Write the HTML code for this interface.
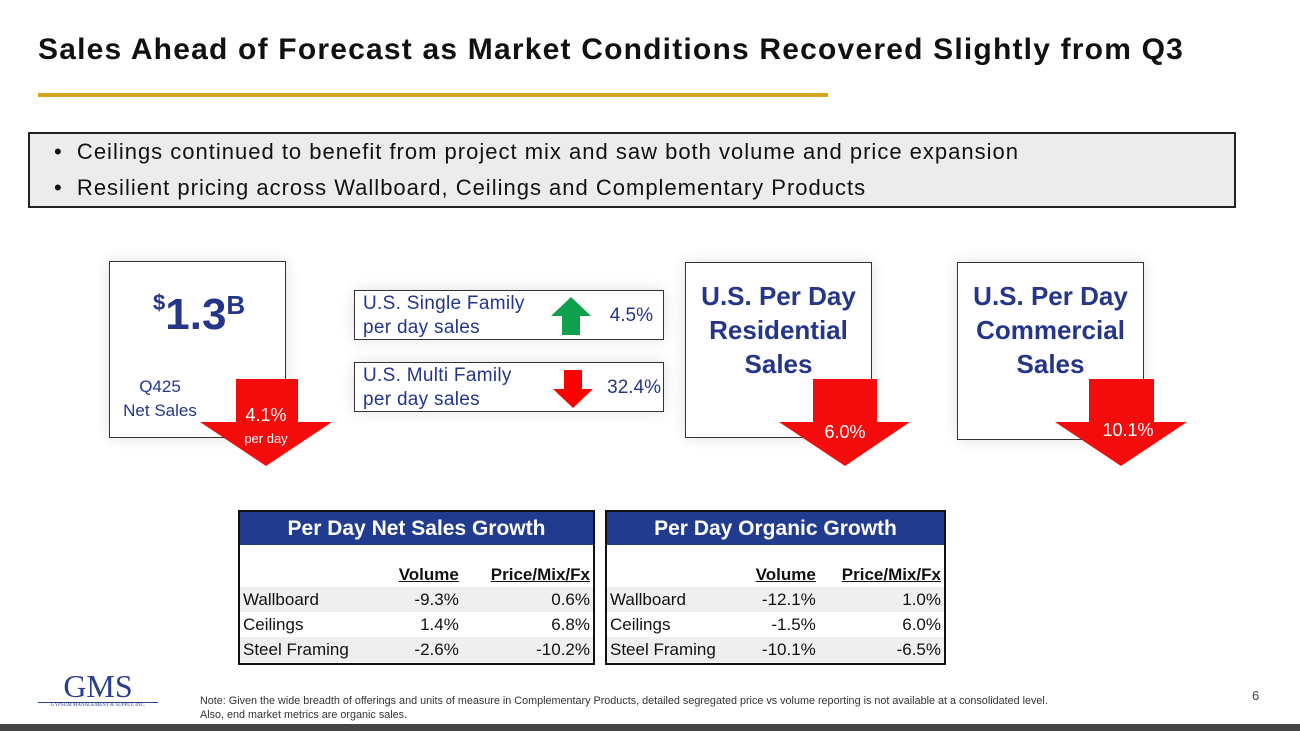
<!DOCTYPE html>
<html><head><meta charset="utf-8"><style>
*{margin:0;padding:0;box-sizing:border-box}
body{width:1300px;height:731px;background:#fff;position:relative;overflow:hidden;font-family:"Liberation Sans",sans-serif}
.a{position:absolute}
.box{position:absolute;background:#fff;border:1px solid #333;box-shadow:0 0 14px rgba(0,0,0,.12)}
.navy{color:#24358a}
table{border-collapse:collapse;font-family:"Liberation Sans",sans-serif;font-size:17px;width:100%}
.tbl{position:absolute;border:2px solid #111;background:#fff;overflow:hidden}
.th{background:#213c8e;color:#fff;font-weight:bold;font-size:21px;text-align:center;height:33px;line-height:33px}
td{height:25px;line-height:20px;padding:0 3px;color:#111;white-space:nowrap}
td.n{text-align:right}
tr.g td{background:#efefef}
.ch td{font-weight:bold;text-decoration:underline;text-align:right}
tr.sp td{height:17px;line-height:0;font-size:0}
</style></head><body>
<div class="a" style="left:38px;top:33px;font-size:30px;letter-spacing:1.2px;font-weight:bold;color:#111;white-space:nowrap">Sales Ahead of Forecast as Market Conditions Recovered Slightly from Q3</div>
<div class="a" style="left:38px;top:93px;width:790px;height:4px;background:#d6a520"></div>
<div class="a" style="left:28px;top:132px;width:1208px;height:76px;background:#ececec;border:2px solid #222;font-size:22px;letter-spacing:1px;color:#111;padding:0 0 0 24px;line-height:36px;white-space:nowrap">
<div>•&nbsp;&nbsp;Ceilings continued to benefit from project mix and saw both volume and price expansion</div>
<div>•&nbsp;&nbsp;Resilient pricing across Wallboard, Ceilings and Complementary Products</div>
</div>

<div class="box" style="left:109px;top:261px;width:177px;height:177px">
<div class="a navy" style="left:43px;top:28px;font-weight:bold"><span style="font-size:22px;vertical-align:top">$</span><span style="font-size:44px">1.3</span><span style="font-size:26px;vertical-align:top">B</span></div>
<div class="a navy" style="left:6px;top:113px;font-size:17px;line-height:24px;text-align:center;width:88px">Q425<br>Net Sales</div>
</div>
<div class="box" style="left:685px;top:262px;width:187px;height:176px"><div class="a navy" style="left:0;top:16px;width:100%;text-align:center;font-weight:bold;font-size:26px;line-height:34px">U.S. Per Day<br>Residential<br>Sales</div></div>
<div class="box" style="left:957px;top:262px;width:187px;height:178px"><div class="a navy" style="left:0;top:16px;width:100%;text-align:center;font-weight:bold;font-size:26px;line-height:34px">U.S. Per Day<br>Commercial<br>Sales</div></div>

<div class="box" style="left:354px;top:290px;width:310px;height:50px">
<div class="a navy" style="left:8px;top:1px;font-size:19px;line-height:24px;letter-spacing:.3px">U.S. Single Family<br>per day sales</div>
<svg class="a" style="left:196px;top:6px" width="40" height="38"><polygon points="20,0 40,19 29,19 29,38 11,38 11,19 0,19" fill="#0ea04a"/></svg>
<div class="a navy" style="right:10px;top:14px;font-size:19px">4.5%</div></div>
<div class="box" style="left:354px;top:362px;width:310px;height:50px">
<div class="a navy" style="left:8px;top:1px;font-size:19px;line-height:24px;letter-spacing:.3px">U.S. Multi Family<br>per day sales</div>
<svg class="a" style="left:198px;top:7px" width="40" height="38"><polygon points="11,0 29,0 29,19 40,19 20,38 0,19 11,19" fill="#f00"/></svg>
<div class="a navy" style="right:2px;top:14px;font-size:19px">32.4%</div></div>

<svg class="a" style="left:0;top:0" width="1300" height="731">
<polygon points="236,379 298,379 298,422 332,422 266,466 200,422 236,422" fill="#f40b0b"/>
<polygon points="813,379 877,379 877,422 910,422 845,466 779,422 813,422" fill="#f40b0b"/>
<polygon points="1089,379 1154,379 1154,422 1187,422 1121,466 1055,422 1089,422" fill="#f40b0b"/>
<text x="266" y="421" fill="#fff" font-size="18" text-anchor="middle" font-family="Liberation Sans">4.1%</text>
<text x="266" y="443" fill="#fff" font-size="13" text-anchor="middle" font-family="Liberation Sans">per day</text>
<text x="845" y="438" fill="#fff" font-size="18" text-anchor="middle" font-family="Liberation Sans">6.0%</text>
<text x="1128" y="436" fill="#fff" font-size="18" text-anchor="middle" font-family="Liberation Sans">10.1%</text>
</svg>

<div class="tbl" style="left:238px;top:510px;width:357px;height:155px">
<div class="th">Per Day Net Sales Growth</div>
<table><tr class="sp"><td></td><td></td><td></td></tr>
<tr class="ch"><td style="text-decoration:none"></td><td>Volume</td><td>Price/Mix/Fx</td></tr>
<tr class="g"><td>Wallboard</td><td class="n">-9.3%</td><td class="n">0.6%</td></tr>
<tr><td>Ceilings</td><td class="n">1.4%</td><td class="n">6.8%</td></tr>
<tr class="g"><td>Steel Framing</td><td class="n">-2.6%</td><td class="n">-10.2%</td></tr></table></div>
<div class="tbl" style="left:605px;top:510px;width:341px;height:155px">
<div class="th">Per Day Organic Growth</div>
<table><tr class="sp"><td></td><td></td><td></td></tr>
<tr class="ch"><td style="text-decoration:none"></td><td>Volume</td><td>Price/Mix/Fx</td></tr>
<tr class="g"><td>Wallboard</td><td class="n">-12.1%</td><td class="n">1.0%</td></tr>
<tr><td>Ceilings</td><td class="n">-1.5%</td><td class="n">6.0%</td></tr>
<tr class="g"><td>Steel Framing</td><td class="n">-10.1%</td><td class="n">-6.5%</td></tr></table></div>

<div class="a" style="left:38px;top:670px;width:120px;text-align:center;color:#2a3f8e">
<div style="font-family:'Liberation Serif',serif;font-size:32px;line-height:32px">GMS</div>
<div style="border-top:1px solid #2a3f8e;font-size:5px;font-family:'Liberation Serif',serif">GYPSUM MANAGEMENT &amp; SUPPLY, INC.</div></div>
<div class="a" style="left:200px;top:694px;font-size:10.8px;color:#333;line-height:14px;white-space:nowrap">Note: Given the wide breadth of offerings and units of measure in Complementary Products, detailed segregated price vs volume reporting is not available at a consolidated level.<br>Also, end market metrics are organic sales.</div>
<div class="a" style="left:1252px;top:688px;font-size:13px;color:#444">6</div>
<div class="a" style="left:0;top:724px;width:1300px;height:7px;background:#454545"></div>
</body></html>
